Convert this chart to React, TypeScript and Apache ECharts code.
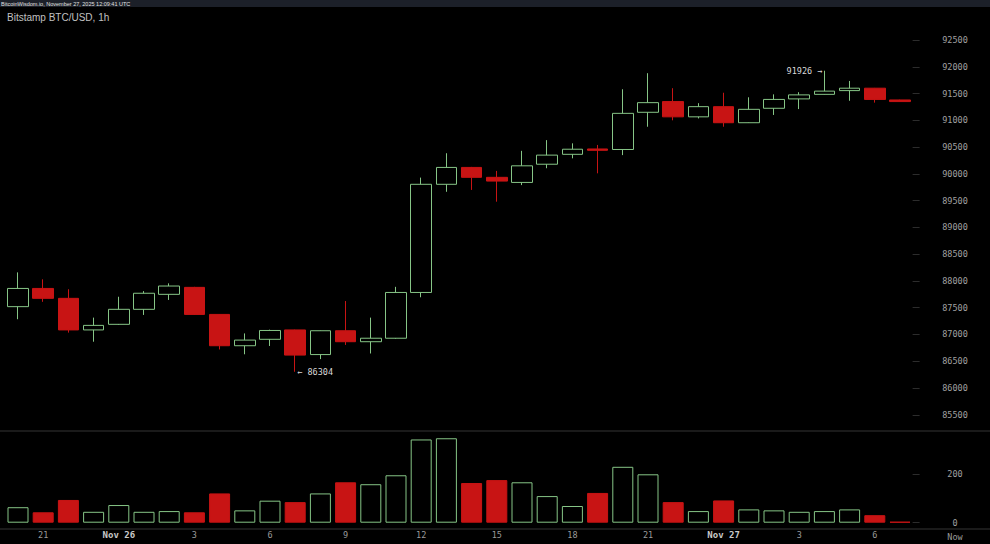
import React, { useEffect, useRef } from "react";
import * as echarts from "echarts";

const hours = [
  "20", "21", "22", "23", "Nov 26", "1", "2", "3", "4", "5", "6", "7",
  "8", "9", "10", "11", "12", "13", "14", "15", "16", "17", "18", "19",
  "20", "21", "22", "23", "Nov 27", "1", "2", "3", "4", "5", "6", "7",
];

const opens = [
  87520, 87860, 87675, 87085, 87190, 87470, 87750, 87880, 87375, 86790, 86910, 87085,
  86625, 87070, 86865, 86930, 87785, 89805, 90120, 89935, 89840, 90180, 90365, 90465,
  90455, 91150, 91350, 91065, 91255, 90955, 91225, 91400, 91485, 91555, 91600, 91380,
];
const highs = [
  88160, 88030, 87845, 87315, 87705, 87810, 87955, 87890, 87380, 87020, 87090, 87090,
  87075, 87625, 87315, 87890, 89930, 90385, 90130, 90055, 90430, 90630, 90570, 90540,
  91580, 91880, 91600, 91320, 91515, 91430, 91485, 91525, 91926, 91735, 91605, 91385,
];
const lows = [
  87285, 87610, 87035, 86865, 87180, 87365, 87645, 87365, 86720, 86630, 86785, 86304,
  86540, 86805, 86645, 86920, 87695, 89665, 89700, 89480, 89790, 90105, 90290, 90010,
  90350, 90880, 91000, 91035, 90880, 90950, 91100, 91210, 91480, 91365, 91330, 91345,
];
const closes = [
  87860, 87675, 87085, 87170, 87470, 87770, 87905, 87375, 86790, 86895, 87075, 86615,
  87070, 86865, 86930, 87785, 89805, 90120, 89935, 89865, 90150, 90350, 90460, 90440,
  91130, 91330, 91065, 91255, 90955, 91205, 91390, 91475, 91545, 91600, 91390, 91350,
];
const volumes = [
  64, 43, 94, 45, 73, 45, 48, 43, 121, 51, 91, 85,
  121, 167, 159, 196, 344, 349, 164, 176, 167, 110, 69, 123,
  231, 200, 85, 48, 92, 55, 51, 45, 48, 55, 31, 4,
];
const priceTicks = { min: 85500, max: 92500, step: 500 };
const volumeTicks = [0, 200];

const UP = "#86c586";
const DOWN = "#c81414";
const MONO = '"DejaVu Sans Mono", monospace';

export default function App() {
  const ref = useRef<HTMLDivElement>(null);

  useEffect(() => {
    if (!ref.current) return;
    const chart = echarts.init(ref.current, null, { renderer: "svg" });

    const candles = opens.map((o, i) => [o, closes[i], lows[i], highs[i]]);
    let hiIdx = 0;
    let loIdx = 0;
    highs.forEach((h, i) => { if (h > highs[hiIdx]) hiIdx = i; });
    lows.forEach((l, i) => { if (l < lows[loIdx]) loIdx = i; });

    const volData = volumes.map((v, i) => {
      const up = closes[i] >= opens[i];
      return {
        value: v,
        itemStyle: up
          ? { color: "rgba(0,0,0,0)", borderColor: UP, borderWidth: 1 }
          : { color: DOWN, borderColor: DOWN, borderWidth: 1 },
      };
    });

    const gridLeft = 5.4;
    const gridWidth = 907.2;

    chart.setOption({
      animation: false,
      backgroundColor: "#000000",
      grid: [
        { left: gridLeft, width: gridWidth, top: 40, height: 374.8 },
        { left: gridLeft, width: gridWidth, top: 431, height: 91.7 },
      ],
      xAxis: [
        { type: "category", data: hours, gridIndex: 0, show: false, boundaryGap: true },
        {
          type: "category",
          data: hours,
          gridIndex: 1,
          boundaryGap: true,
          axisLine: { show: false },
          axisTick: { show: false },
          splitLine: { show: false },
          axisLabel: {
            interval: (i: number) => i % 3 === 1,
            margin: 8,
            color: "#9a9a9a",
            fontFamily: MONO,
            fontSize: 8.5,
            formatter: (v: string) => (v.startsWith("Nov") ? "{d|" + v + "}" : v),
            rich: {
              d: { color: "#c8c8c8", fontWeight: "bold", fontFamily: MONO, fontSize: 9 },
            },
          },
        },
      ],
      yAxis: [
        {
          type: "value",
          gridIndex: 0,
          position: "right",
          min: priceTicks.min,
          max: priceTicks.max,
          interval: priceTicks.step,
          axisLine: { show: false },
          axisTick: { show: true, length: 7, lineStyle: { color: "#2c2c2c" } },
          splitLine: { show: false },
          axisLabel: {
            margin: 42.4,
            align: "center",
            color: "#a0a0a0",
            fontFamily: MONO,
            fontSize: 8.5,
            formatter: (v: number) => String(v),
          },
        },
        {
          type: "value",
          gridIndex: 1,
          position: "right",
          min: 0,
          max: 379,
          interval: 200,
          axisLine: { show: false },
          axisTick: { show: true, length: 7, customValues: volumeTicks, lineStyle: { color: "#2c2c2c" } },
          splitLine: { show: false },
          axisLabel: {
            customValues: volumeTicks,
            margin: 42.4,
            align: "center",
            color: "#a0a0a0",
            fontFamily: MONO,
            fontSize: 8.5,
            formatter: (v: number) => (volumeTicks.includes(v) ? String(v) : ""),
          },
        },
      ],
      series: [
        {
          type: "candlestick",
          xAxisIndex: 0,
          yAxisIndex: 0,
          data: candles,
          barWidth: 21,
          itemStyle: {
            color: "rgba(0,0,0,0)",
            color0: DOWN,
            borderColor: UP,
            borderColor0: DOWN,
            borderWidth: 1,
          },
          markPoint: {
            symbol: "circle",
            symbolSize: 0,
            silent: true,
            data: [
              {
                coord: [hiIdx, highs[hiIdx]],
                value: highs[hiIdx],
                label: { show: true, position: "left", distance: 2, formatter: (p: any) => String(p.value) + " →" },
              },
              {
                coord: [loIdx, lows[loIdx]],
                value: lows[loIdx],
                label: { show: true, position: "right", distance: 2, formatter: (p: any) => "← " + String(p.value) },
              },
            ],
            label: { color: "#d8d8d8", fontFamily: MONO, fontSize: 8.5 },
          },
        },
        {
          type: "bar",
          xAxisIndex: 1,
          yAxisIndex: 1,
          data: volData,
          barWidth: 21,
        },
      ],
      graphic: [
        { type: "rect", shape: { x: 0, y: 0, width: 990, height: 7 }, style: { fill: "#1c2029" }, silent: true },
        {
          type: "text", x: 1, y: 3.5,
          style: { text: "BitcoinWisdom.io, November 27, 2025 12:09:41 UTC", fill: "#e0e0e0", font: '5.5px "Liberation Sans", sans-serif', verticalAlign: "middle", align: "left" },
        },
        {
          type: "text", x: 7, y: 17,
          style: { text: "Bitstamp BTC/USD, 1h", fill: "#c0c0c0", font: '10px "Liberation Sans", sans-serif', verticalAlign: "middle", align: "left" },
        },
        { type: "line", shape: { x1: 0, y1: 431, x2: 990, y2: 431 }, style: { stroke: "#343434", lineWidth: 1 }, silent: true },
        { type: "line", shape: { x1: 0, y1: 529, x2: 990, y2: 529 }, style: { stroke: "#343434", lineWidth: 1 }, silent: true },
        {
          type: "text", x: 955, y: 536.5,
          style: { text: "Now", fill: "#9a9a9a", font: '8.5px "DejaVu Sans Mono", monospace', verticalAlign: "middle", align: "center" },
        },
      ],
    });

    return () => chart.dispose();
  }, []);

  return (
    <div
      ref={ref}
      style={{ position: "absolute", left: 0, top: 0, width: 990, height: 544, background: "#000" }}
    />
  );
}
